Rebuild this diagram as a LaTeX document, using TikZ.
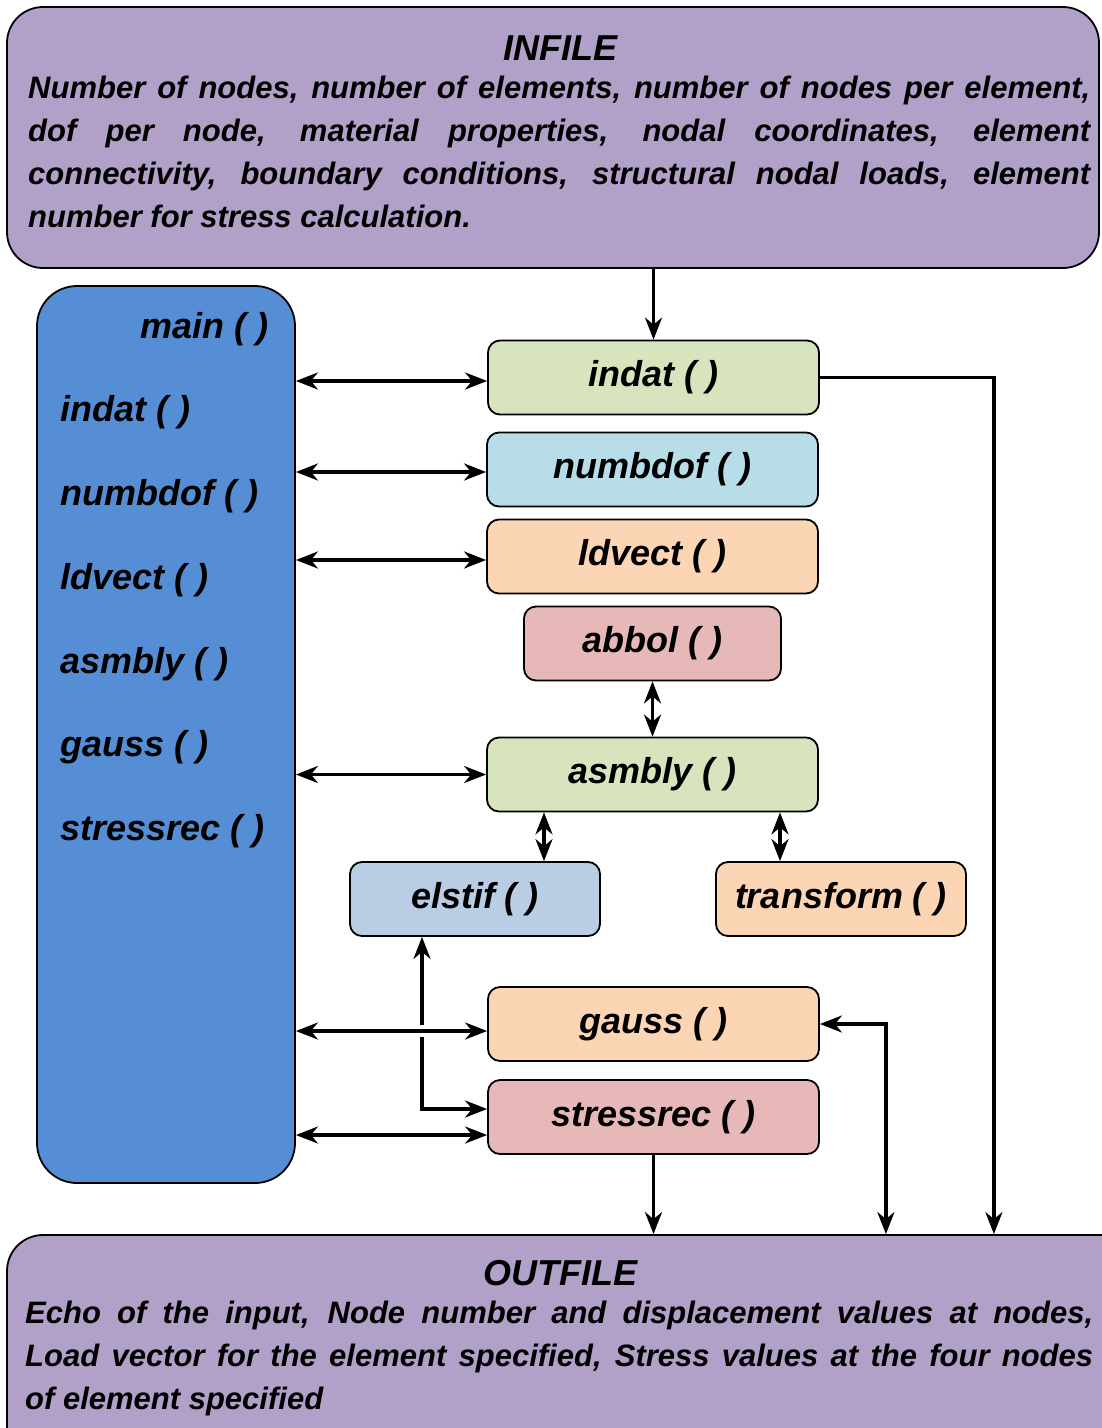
\documentclass[tikz,border=0pt]{standalone}
\usepackage{fontspec}
\setmainfont{Liberation Sans}
\usetikzlibrary{arrows.meta,calc}
\definecolor{filec}{RGB}{177,160,199}
\definecolor{mainc}{RGB}{85,142,213}
\definecolor{greenc}{RGB}{215,228,189}
\definecolor{cyanc}{RGB}{183,222,232}
\definecolor{peachc}{RGB}{252,213,181}
\definecolor{pinkc}{RGB}{230,185,184}
\definecolor{steelc}{RGB}{185,205,229}
\begin{document}
\begin{tikzpicture}[x=1pt,y=-1pt,
  lbl/.style={font=\fontsize{36}{40}\selectfont\bfseries\itshape, inner sep=0pt},
  fnbox/.style={draw=black, line width=1.8pt, rounded corners=12pt, minimum width=331pt, minimum height=74pt, inner sep=0pt, font=\fontsize{36}{40}\selectfont\bfseries\itshape},
  bigbox/.style={draw=black, line width=1.8pt, fill=filec, rounded corners=36pt, inner sep=0pt},
  para/.style={font=\fontsize{31}{43}\selectfont\bfseries\itshape, inner sep=0pt, align=justify},
  arr/.style={line width=3.2pt},
  >={Stealth[length=22pt,width=17pt,inset=7pt]}
]
\useasboundingbox (0,0) rectangle (1102,1428);
\clip (0,0) rectangle (1102,1428);

% INFILE
\node[bigbox, minimum width=1092pt, minimum height=261pt] (infile) at (553,137.5) {};
\node[lbl] (infiletitle) at (560,48) {INFILE};
\node[para, text width=1062pt, anchor=base west] (infiletext) at (28,98) {Number of nodes, number of elements, number of nodes per element,\linebreak dof per node, material properties, nodal coordinates, element\linebreak connectivity, boundary conditions, structural nodal loads, element\linebreak number for stress calculation.};

% OUTFILE
\node[bigbox, minimum width=1133pt, minimum height=235pt] (outfile) at (573.5,1352.5) {};
\node[lbl] (outfiletitle) at (560,1273) {OUTFILE};
\node[para, text width=1068pt, anchor=base west] (outfiletext) at (25,1323) {Echo of the input, Node number and displacement values at nodes,\linebreak Load vector for the element specified, Stress values at the four nodes\linebreak of element specified};

% main
\node[draw=black, line width=1.8pt, fill=mainc, rounded corners=40pt, minimum width=258pt, minimum height=897pt, inner sep=0pt] (main) at (166,734.5) {};
\node[lbl, anchor=west] (m0) at (140,329) {main ( )};
\node[lbl, anchor=west] (m1) at (60,412) {indat ( )};
\node[lbl, anchor=west] (m2) at (60,496) {numbdof ( )};
\node[lbl, anchor=west] (m3) at (60,580) {ldvect ( )};
\node[lbl, anchor=west] (m4) at (60,664) {asmbly ( )};
\node[lbl, anchor=west] (m5) at (60,747) {gauss ( )};
\node[lbl, anchor=west] (m6) at (60,831) {stressrec ( )};

% function boxes
\node[fnbox, fill=greenc] (indat) at (653.5,377.5) {indat ( )};
\node[fnbox, fill=cyanc] (numbdof) at (652.5,469.5) {numbdof ( )};
\node[fnbox, fill=peachc] (ldvect) at (652.5,556.5) {ldvect ( )};
\node[fnbox, fill=pinkc, minimum width=257pt] (abbol) at (652.5,643.5) {abbol ( )};
\node[fnbox, fill=greenc] (asmbly) at (652.5,774.5) {asmbly ( )};
\node[fnbox, fill=steelc, minimum width=250pt] (elstif) at (475,899) {elstif ( )};
\node[fnbox, fill=peachc, minimum width=250pt] (transform) at (841,899) {transform ( )};
\node[fnbox, fill=peachc] (gauss) at (653.5,1024) {gauss ( )};
\node[fnbox, fill=pinkc] (stressrec) at (653.5,1117) {stressrec ( )};

% connectors
\draw[arr,->] (infile.south -| indat.north) -- (indat.north);
\draw[arr,<->] ([yshift=-3.5pt]indat.west -| main.east) -- ([yshift=-3.5pt]indat.west);
\draw[arr,<->] ([yshift=-2.5pt]numbdof.west -| main.east) -- ([yshift=-2.5pt]numbdof.west);
\draw[arr,<->] ([yshift=-3.5pt]ldvect.west -| main.east) -- ([yshift=-3.5pt]ldvect.west);
\draw[arr,<->] (abbol.south) -- (abbol.south |- asmbly.north);
\draw[arr,<->] (asmbly.west -| main.east) -- (asmbly.west);
\draw[arr,<->] ([xshift=69pt]elstif.north |- asmbly.south) -- ([xshift=69pt]elstif.north);
\draw[arr,<->] ([xshift=-61pt]transform.north |- asmbly.south) -- ([xshift=-61pt]transform.north);
\draw[arr,<->] ([xshift=-53pt]elstif.south) |- ([yshift=8pt]stressrec.west);
\fill[white] (413,1025) rectangle (431,1037);
\draw[arr,<->] ([yshift=-7pt]gauss.west -| main.east) -- ([yshift=-7pt]gauss.west);
\draw[arr,<->] ([yshift=-18pt]stressrec.west -| main.east) -- ([yshift=-18pt]stressrec.west);
\draw[arr,->] (stressrec.south) -- (stressrec.south |- outfile.north);
\draw[arr,<->] (gauss.east) -- ++(66,0) coordinate (gk) -- (gk |- outfile.north);
\draw[arr,->] (indat.east) -- ++(174,0) coordinate (ik) -- (ik |- outfile.north);
\end{tikzpicture}
\end{document}
